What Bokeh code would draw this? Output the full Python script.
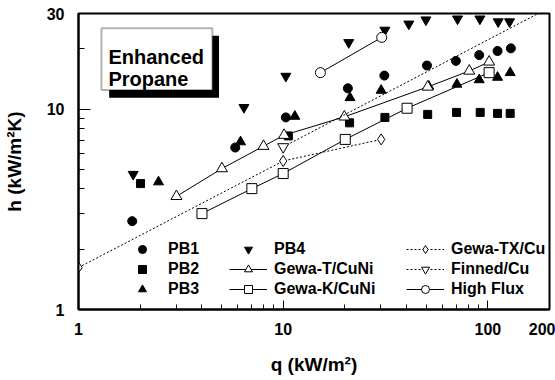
from bokeh.plotting import figure
from bokeh.models import (Range1d, FixedTicker, PrintfTickFormatter, Legend, LegendItem,
                          BoxAnnotation, Label)
from bokeh.embed import file_html
from bokeh.resources import INLINE

# ---------------- data ----------------
pb1_q = [1.83, 5.83, 10.3, 20.7, 31.2, 50.4, 69.8, 90.7, 111.5, 129.5]
pb1_h = [2.76, 6.43, 9.09, 12.7, 14.7, 16.5, 17.4, 18.6, 19.5, 20.1]

pb2_q = [2.01, 10.6, 21.1, 31.4, 50.8, 70.3, 91.7, 111.5, 128.5]
pb2_h = [4.25, 7.35, 8.54, 9.09, 9.41, 9.63, 9.63, 9.52, 9.52]

pb3_q = [2.46, 6.19, 11.4, 21.2, 30.1, 51.4, 70.6, 90.7, 111.5, 128.5]
pb3_h = [4.33, 6.86, 9.2, 11.4, 12.4, 13.0, 13.3, 14.0, 14.4, 15.2]

pb4_q = [1.85, 6.43, 10.3, 20.9, 31.4, 41.1, 49.8, 71.1, 91.4, 112.3, 127.6]
pb4_h = [4.73, 10.2, 14.6, 21.5, 24.8, 26.6, 27.9, 28.2, 28.2, 27.3, 27.3]

gewa_t_q = [3.01, 5.02, 8.01, 10.1, 19.9, 50.8, 81.1, 101.4]
gewa_t_h = [3.67, 5.05, 6.53, 7.41, 9.15, 12.9, 15.5, 17.2]

gewa_k_q = [4.01, 7.03, 10.0, 20.1, 40.3, 101.4]
gewa_k_h = [3.01, 4.01, 4.77, 7.06, 10.1, 15.2]

gewa_tx_q = [1.0, 10.0, 30.1]
gewa_tx_h = [1.62, 5.51, 7.06]

finned_q = [10.0]
finned_h = [6.48]
finned_line_q = [10.0, 200.0]
finned_line_h = [6.48, 32.1]

high_flux_q = [15.2, 30.3]
high_flux_h = [15.2, 22.8]

x_ticks = [1, 10, 100, 200]
x_minor = [2, 3, 4, 5, 6, 7, 8, 9, 20, 30, 40, 50, 60, 70, 80, 90]
y_ticks = [1, 10, 30]
y_minor = [2, 3, 4, 5, 6, 7, 8, 9, 20]

# ---------------- figure ----------------
FONT = "Liberation Sans"
p = figure(width=555, height=380, x_axis_type="log", y_axis_type="log",
           x_range=Range1d(1, 200), y_range=Range1d(1, 30),
           output_backend="svg", toolbar_location=None,
           min_border_left=77, min_border_right=6, min_border_top=13, min_border_bottom=71)
p.background_fill_color = "white"
p.border_fill_color = "white"
p.outline_line_color = "black"
p.outline_line_width = 2
p.xgrid.visible = False
p.ygrid.visible = False

p.xaxis.ticker = FixedTicker(ticks=x_ticks, minor_ticks=x_minor)
p.yaxis.ticker = FixedTicker(ticks=y_ticks, minor_ticks=y_minor)
p.xaxis.formatter = PrintfTickFormatter(format="%d")
p.yaxis.formatter = PrintfTickFormatter(format="%d")
p.xaxis.axis_label = "q (kW/m²)"
p.yaxis.axis_label = "h (kW/m²K)"
for ax in (p.xaxis, p.yaxis):
    ax.axis_line_width = 2
    ax.axis_line_color = "black"
    ax.major_tick_out = 0
    ax.minor_tick_out = 0
    ax.major_tick_line_color = "black"
    ax.minor_tick_line_color = "black"
    ax.major_label_text_font = FONT
    ax.major_label_text_font_style = "bold"
    ax.major_label_text_font_size = "16px"
    ax.major_label_text_color = "black"
    ax.axis_label_text_font = FONT
    ax.axis_label_text_font_style = "bold"
    ax.axis_label_text_font_size = "19px"
    ax.axis_label_text_color = "black"
p.xaxis.major_tick_in = 9
p.xaxis.minor_tick_in = 5
p.yaxis.major_tick_in = 12
p.yaxis.minor_tick_in = 6
p.xaxis.major_label_standoff = 13
p.xaxis.axis_label_standoff = 16
p.yaxis.major_label_standoff = 14
p.yaxis.axis_label_standoff = 19

# ---------------- series ----------------
r_pb1 = p.scatter(pb1_q, pb1_h, marker="circle", size=9, color="black")
r_pb2 = p.scatter(pb2_q, pb2_h, marker="square", size=8, color="black")
r_pb3 = p.scatter(pb3_q, pb3_h, marker="triangle", size=10, color="black")
r_pb4 = p.scatter(pb4_q, pb4_h, marker="inverted_triangle", size=10, color="black")

l_t = p.line(gewa_t_q, gewa_t_h, line_color="black", line_width=1)
s_t = p.scatter(gewa_t_q, gewa_t_h, marker="triangle", size=11, fill_color="white",
                line_color="black", line_width=1)
l_k = p.line(gewa_k_q, gewa_k_h, line_color="black", line_width=1)
s_k = p.scatter(gewa_k_q, gewa_k_h, marker="square", size=10, fill_color="white",
                line_color="black", line_width=1)
l_tx = p.line(gewa_tx_q, gewa_tx_h, line_color="black", line_width=1, line_dash="2 2")
s_tx = p.scatter(gewa_tx_q, gewa_tx_h, marker="diamond", size=11, fill_color="white",
                 line_color="black", line_width=1)
l_f = p.line(finned_line_q, finned_line_h, line_color="black", line_width=1, line_dash="2 2")
s_f = p.scatter(finned_q, finned_h, marker="inverted_triangle", size=11, fill_color="white",
                line_color="black", line_width=1)
l_hf = p.line(high_flux_q, high_flux_h, line_color="black", line_width=1)
s_hf = p.scatter(high_flux_q, high_flux_h, marker="circle", size=10, fill_color="white",
                 line_color="black", line_width=1)

# ---------------- legends (three columns) ----------------
def make_legend(items, loc):
    lg = Legend(items=items, location=loc, orientation="vertical",
                glyph_width=38, glyph_height=20, label_height=20, spacing=0,
                padding=0, margin=0, label_standoff=7,
                border_line_color=None, background_fill_alpha=0)
    lg.label_text_font = FONT
    lg.label_text_font_style = "bold"
    lg.label_text_font_size = "16px"
    lg.label_text_color = "black"
    return lg

leg1 = make_legend([LegendItem(label="PB1", renderers=[r_pb1]),
                    LegendItem(label="PB2", renderers=[r_pb2]),
                    LegendItem(label="PB3", renderers=[r_pb3])], (45, 10))
leg2 = make_legend([LegendItem(label="PB4", renderers=[r_pb4]),
                    LegendItem(label="Gewa-T/CuNi", renderers=[l_t, s_t]),
                    LegendItem(label="Gewa-K/CuNi", renderers=[l_k, s_k])], (151, 10))
leg3 = make_legend([LegendItem(label="Gewa-TX/Cu", renderers=[l_tx, s_tx]),
                    LegendItem(label="Finned/Cu", renderers=[l_f, s_f]),
                    LegendItem(label="High Flux", renderers=[l_hf, s_hf])], (328, 10))
for lg in (leg1, leg2, leg3):
    p.add_layout(lg, "center")

# ---------------- "Enhanced Propane" box with shadow ----------------
shadow = BoxAnnotation(left=1.412, right=4.857, top=23.26, bottom=11.39,
                       fill_color="black", fill_alpha=1, line_color=None)
box = BoxAnnotation(left=1.295, right=4.505, top=25.32, bottom=12.45,
                    fill_color="white", fill_alpha=1, line_color="black", line_width=2)
p.add_layout(shadow)
p.add_layout(box)
for txt, yy in (("Enhanced", 18.14), ("Propane", 14.13)):
    p.add_layout(Label(x=1.40, y=yy, text=txt, text_font=FONT, text_font_style="bold",
                       text_font_size="20px", text_color="black",
                       text_baseline="alphabetic", text_align="left"))

open("out.html", "w").write(file_html(p, INLINE))
